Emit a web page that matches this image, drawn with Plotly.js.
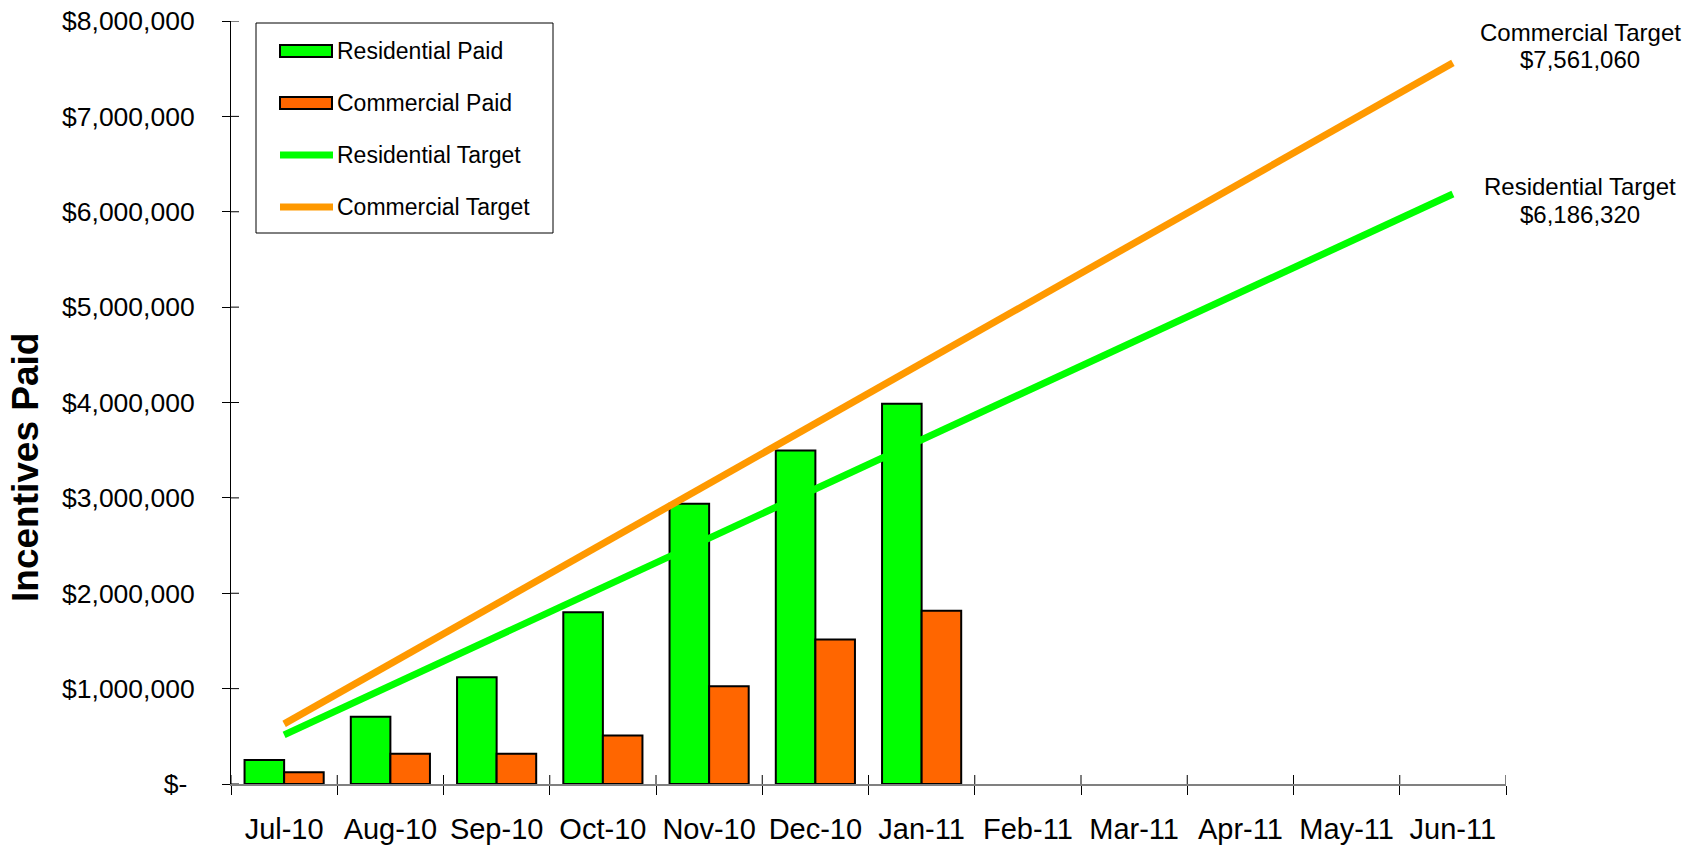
<!DOCTYPE html>
<html>
<head>
<meta charset="utf-8">
<script src="https://cdn.plot.ly/plotly-3.0.1.min.js"></script>
<style>html,body{margin:0;padding:0;background:#fff;}#chart{width:1696px;height:845px;}</style>
</head>
<body>
<div id="chart"></div>
<script>
// ---- data ----
const months = ['Jul-10','Aug-10','Sep-10','Oct-10','Nov-10','Dec-10','Jan-11','Feb-11','Mar-11','Apr-11','May-11','Jun-11'];
const residentialPaid = [252000, 706000, 1118000, 1802000, 2939000, 3498000, 3988000];
const commercialPaid  = [122000, 318000, 318000, 508000, 1025000, 1515000, 1816000];
const residentialTarget = [515527, 1031053, 1546580, 2062107, 2577633, 3093160, 3608687, 4124213, 4639740, 5155267, 5670793, 6186320];
const commercialTarget  = [630088, 1260177, 1890265, 2520353, 3150442, 3780530, 4410618, 5040707, 5670795, 6300883, 6930972, 7561060];
const yTickVals = [0, 1000000, 2000000, 3000000, 4000000, 5000000, 6000000, 7000000, 8000000];
const yTickText = ['$-\u00a0', '$1,000,000', '$2,000,000', '$3,000,000', '$4,000,000', '$5,000,000', '$6,000,000', '$7,000,000', '$8,000,000'];
const seriesNames = ['Residential Paid', 'Commercial Paid', 'Residential Target', 'Commercial Target'];
const targetLabels = ['Commercial Target', '$7,561,060', 'Residential Target', '$6,186,320'];

// ---- styles ----
const FONT = 'Liberation Sans, Arial, sans-serif';
const GREEN = '#00FF00', ORANGE_BAR = '#FF6600', ORANGE_LINE = '#FF9900';
const W = 1696, H = 845;
const M = {l: 231, r: 190, t: 21, b: 61};
const PW = W - M.l - M.r, PH = H - M.t - M.b;
const px = x => (x - M.l) / PW;
const py = y => (H - M.b - y) / PH;

const traces = [
  {type: 'bar', name: seriesNames[0], x: months.slice(0, residentialPaid.length), y: residentialPaid,
   marker: {color: GREEN, line: {color: '#000', width: 2}}, showlegend: false},
  {type: 'bar', name: seriesNames[1], x: months.slice(0, commercialPaid.length), y: commercialPaid,
   marker: {color: ORANGE_BAR, line: {color: '#000', width: 2}}, showlegend: false},
  {type: 'scatter', mode: 'lines', name: seriesNames[2], x: months, y: residentialTarget,
   line: {color: GREEN, width: 7}, showlegend: false},
  {type: 'scatter', mode: 'lines', name: seriesNames[3], x: months, y: commercialTarget,
   line: {color: ORANGE_LINE, width: 7}, showlegend: false}
];

const shapes = [];
const annotations = [];

// custom legend box
shapes.push({type: 'rect', xref: 'paper', yref: 'paper', x0: px(256), x1: px(553), y0: py(23), y1: py(233),
  line: {color: '#000', width: 1}, fillcolor: 'rgba(255,255,255,0)', layer: 'above'});
const rows = [51, 103, 155, 207];
// bar swatches
[[GREEN, rows[0]], [ORANGE_BAR, rows[1]]].forEach(([c, y]) => {
  shapes.push({type: 'rect', xref: 'paper', yref: 'paper', x0: px(280), x1: px(332), y0: py(y + 6), y1: py(y - 6),
    line: {color: '#000', width: 2}, fillcolor: c, layer: 'above'});
});
// line swatches
[[GREEN, rows[2]], [ORANGE_LINE, rows[3]]].forEach(([c, y]) => {
  shapes.push({type: 'line', xref: 'paper', yref: 'paper', x0: px(280), x1: px(333), y0: py(y), y1: py(y),
    line: {color: c, width: 7}, layer: 'above'});
});
seriesNames.forEach((n, i) => {
  annotations.push({xref: 'paper', yref: 'paper', x: px(335), y: py(rows[i]), xanchor: 'left', yanchor: 'middle',
    text: n, showarrow: false, font: {family: FONT, size: 23, color: '#000'}});
});

// right-side target labels
[[1580, 32], [1580, 59], [1580, 187], [1580, 214]].forEach(([x, y], i) => {
  annotations.push({xref: 'paper', yref: 'paper', x: px(x), y: py(y), xanchor: 'center', yanchor: 'middle',
    text: targetLabels[i], showarrow: false, font: {family: FONT, size: 24, color: '#000'}});
});

// y-axis title
annotations.push({xref: 'paper', yref: 'paper', x: px(25), y: py(468), xanchor: 'center', yanchor: 'middle',
  text: '<b>Incentives Paid</b>', textangle: -90, showarrow: false, font: {family: FONT, size: 37, color: '#000'}});

// inner halves of crossing ticks
for (let i = 0; i <= months.length; i++) {
  shapes.push({type: 'line', xref: 'x', yref: 'paper', x0: i - 0.5, x1: i - 0.5, ysizemode: 'pixel', yanchor: 0,
    y0: 0, y1: 9, line: {color: '#000', width: 1}});
}
yTickVals.forEach(v => {
  shapes.push({type: 'line', xref: 'paper', yref: 'y', y0: v, y1: v, xsizemode: 'pixel', xanchor: 0,
    x0: 0, x1: 8, line: {color: '#000', width: 1}});
});

const layout = {
  width: W, height: H,
  margin: M,
  paper_bgcolor: '#fff', plot_bgcolor: '#fff',
  showlegend: false,
  barmode: 'group', bargap: 0.255, bargroupgap: 0,
  font: {family: FONT, color: '#000'},
  xaxis: {
    type: 'category', categoryorder: 'array', categoryarray: months, range: [-0.5, months.length - 0.5],
    showline: true, linecolor: '#808080', linewidth: 2,
    ticks: 'outside', ticklen: 9, tickcolor: '#000', tickwidth: 1, tickson: 'boundaries',
    tickfont: {family: FONT, size: 29, color: '#000'}, ticklabelstandoff: 18,
    showgrid: false, zeroline: false, fixedrange: true
  },
  yaxis: {
    range: [0, 8000000], tickvals: yTickVals, ticktext: yTickText,
    showline: true, linecolor: '#000', linewidth: 1,
    ticks: 'outside', ticklen: 8, tickcolor: '#000', tickwidth: 1,
    tickfont: {family: FONT, size: 26.5, color: '#000'}, ticklabelstandoff: 22,
    showgrid: false, zeroline: false, fixedrange: true
  },
  shapes: shapes,
  annotations: annotations
};

Plotly.newPlot('chart', traces, layout, {displayModeBar: false, staticPlot: true});
</script>
</body>
</html>
